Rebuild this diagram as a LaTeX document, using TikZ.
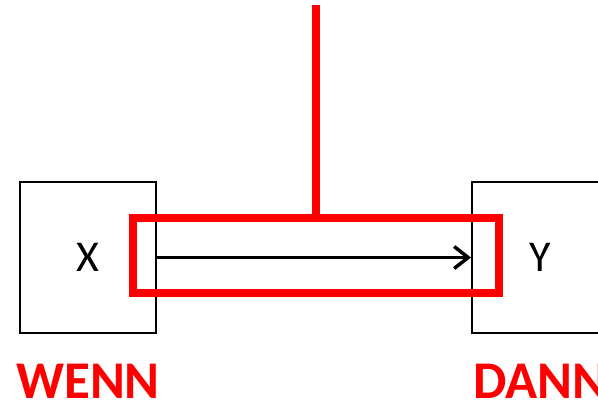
\documentclass[tikz,border=0pt]{standalone}
\usepackage{fontspec}
\setmainfont{Carlito}
\usetikzlibrary{arrows.meta}
\begin{document}
\begin{tikzpicture}[x=1pt,y=-1pt,
  boxstyle/.style={draw=black,line width=2pt,minimum width=136pt,minimum height=151pt,inner sep=0pt,font=\fontsize{44}{48}\selectfont},
  redframe/.style={draw=red,line width=8pt,minimum width=366pt,minimum height=75pt,inner sep=0pt},
  redline/.style={draw=red,line width=8pt},
  labelstyle/.style={text=red,font=\bfseries\fontsize{53}{56}\selectfont,inner sep=0pt},
  arrowstyle/.style={draw=black,line width=3.5pt,-{Straight Barb[length=14pt,width=22pt,line width=3.5pt]}}]
\useasboundingbox (0,0) rectangle (598,404);
\clip (0,0) rectangle (598,404);
\fill[white] (0,0) rectangle (598,404);
\node[boxstyle] (bx) at (88,257.5) {X};
\node[boxstyle] (by) at (540,257.5) {Y};
\draw[arrowstyle] (bx.east) -- (by.west);
\node[redframe] (frame) at (316,255.5) {};
\coordinate (top) at (316,5);
\draw[redline] (top) -- (frame.north);
\node[labelstyle,anchor=base] (wenn) at (88,398) {WENN};
\node[labelstyle,anchor=base west] (dann) at (473,398) {DANN};
\end{tikzpicture}
\end{document}
